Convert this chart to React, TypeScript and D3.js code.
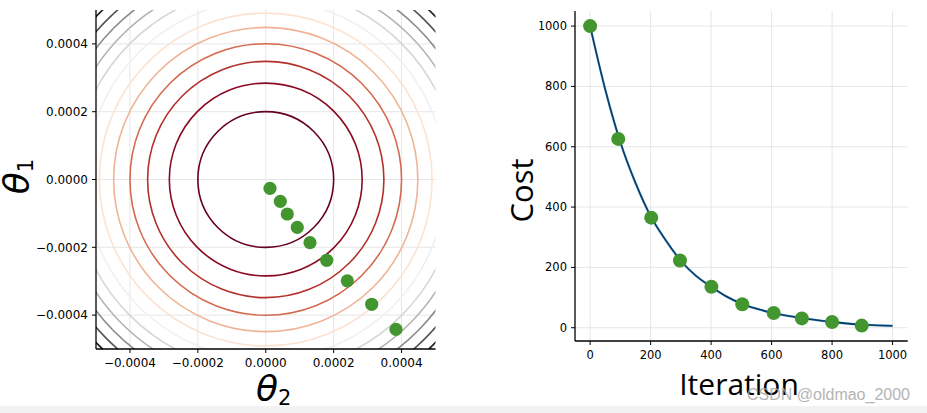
import React from "react";
import * as d3 from "d3";

// ---------- Left panel data (contour plot) ----------
const thetaTicks = [-0.0004, -0.0002, 0, 0.0002, 0.0004];
const thetaTickLabels = ["\u22120.0004", "\u22120.0002", "0.0000", "0.0002", "0.0004"];
// contour radii (levels of cost = theta1^2 + theta2^2, evenly spaced)
const contourLevels = [1, 2, 3, 4, 5, 6, 7, 8, 9, 10, 11, 12];
const contourRadii = [0.0002, 0.000284, 0.000348, 0.0004, 0.000448, 0.00049, 0.000529, 0.000566, 0.0006, 0.000632, 0.000663, 0.000693];
// gradient descent path
const pathTheta2 = [0.0000125, 0.0000429, 0.0000635, 0.0000929, 0.0001303, 0.0001795, 0.0002402, 0.0003121, 0.0003836];
const pathTheta1 = [-0.000026, -0.0000643, -0.0001018, -0.000141, -0.0001864, -0.0002383, -0.0002988, -0.0003681, -0.0004419];

// ---------- Right panel data (cost curve) ----------
const iterTicks = [0, 200, 400, 600, 800, 1000];
const costTicks = [0, 200, 400, 600, 800, 1000];
const pointIter = [0, 93, 202, 297, 401, 503, 607, 700, 800, 898];
const pointCost = [1000, 626, 365, 223, 136, 78, 49, 31, 19, 7];
const lineIter = [0, 50, 100, 150, 200, 250, 300, 350, 400, 450, 500, 550, 600, 650, 700, 750, 800, 850, 900, 950, 1000];
const lineCost = [1000, 790, 615, 480, 370, 290, 222, 172, 136, 104, 80, 63, 50, 40, 32, 25, 19, 14, 10, 8, 6];

// contour line colours (dark red -> cream -> light grey -> black)
const levelColors = ["#67001f", "#8a0a24", "#b4302b", "#d5694e", "#f1b396", "#fbe3d4", "#f0f0f0", "#d6d6d6", "#b3b3b3", "#8a8a8a", "#525252", "#1a1a1a"];

const W = 927;
const H = 413;
const GREEN = "#43962f";
const GRID = "#e6e6e6";

export default function App() {
  // left scales
  const lx = d3.scaleLinear().domain([-0.0005, 0.0005]).range([96, 435.5]);
  const ly = d3.scaleLinear().domain([-0.0005, 0.0005]).range([349, 10]);
  const lL = lx.range()[0], lR = lx.range()[1], lT = ly.range()[1], lB = ly.range()[0];
  const color = d3.scaleOrdinal<number, string>().domain(contourLevels).range(levelColors);

  // right scales
  const rx = d3.scaleLinear().domain([-50, 1050]).range([575, 907.7]);
  const ry = d3.scaleLinear().domain([-44, 1050]).range([341, 11]);
  const rL = rx.range()[0], rR = rx.range()[1], rT = ry.range()[1], rB = ry.range()[0];

  const line = d3
    .line<number>()
    .x((_, i) => rx(lineIter[i]))
    .y((d) => ry(d))
    .curve(d3.curveMonotoneX);

  const tickFont = "'DejaVu Sans', sans-serif";

  return (
    <svg
      width={W}
      height={H}
      viewBox={`0 0 ${W} ${H}`}
      style={{ position: "absolute", left: 0, top: 0, background: "#fff" }}
    >
      <defs>
        <clipPath id="leftClip">
          <rect x={lL} y={lT} width={lR - lL} height={lB - lT} />
        </clipPath>
        <clipPath id="rightPanel">
          <rect x={539.5} y={0} width={W - 539.5} height={H} />
        </clipPath>
      </defs>
      <rect x={0} y={0} width={W} height={H} fill="#fff" />
      <rect x={0} y={406} width={W} height={H - 406} fill="#f2f2f2" />

      {/* ================= LEFT PANEL ================= */}
      <g>
        {/* grid */}
        {thetaTicks.map((t, i) => (
          <g key={"lg" + i}>
            <line x1={lx(t)} x2={lx(t)} y1={lT} y2={lB} stroke={GRID} strokeWidth={1} />
            <line x1={lL} x2={lR} y1={ly(t)} y2={ly(t)} stroke={GRID} strokeWidth={1} />
          </g>
        ))}
        {/* contours */}
        <g clipPath="url(#leftClip)">
          {contourRadii.map((r, i) => (
            <circle
              key={"c" + i}
              cx={lx(0)}
              cy={ly(0)}
              r={lx(r) - lx(0)}
              fill="none"
              stroke={color(contourLevels[i])}
              strokeWidth={1.6}
            />
          ))}
        </g>
        {/* descent path points */}
        {pathTheta2.map((t2, i) => (
          <circle key={"p" + i} cx={lx(t2)} cy={ly(pathTheta1[i])} r={6.6} fill={GREEN} />
        ))}
        {/* spines */}
        <line x1={lL} x2={lL} y1={lT} y2={lB} stroke="#000" strokeWidth={1.3} />
        <line x1={lL} x2={lR} y1={lB} y2={lB} stroke="#000" strokeWidth={1.3} />
        {/* x ticks */}
        {thetaTicks.map((t, i) => (
          <g key={"lxt" + i}>
            <line x1={lx(t)} x2={lx(t)} y1={lB} y2={lB + 4} stroke="#000" strokeWidth={1} />
            <text x={lx(t)} y={lB + 18} fontSize={12} fontFamily={tickFont} textAnchor="middle" fill="#000">
              {thetaTickLabels[i]}
            </text>
          </g>
        ))}
        {/* y ticks */}
        {thetaTicks.map((t, i) => (
          <g key={"lyt" + i}>
            <line x1={lL - 4} x2={lL} y1={ly(t)} y2={ly(t)} stroke="#000" strokeWidth={1} />
            <text x={lL - 8} y={ly(t)} dy="0.35em" fontSize={12} fontFamily={tickFont} textAnchor="end" fill="#000">
              {thetaTickLabels[i]}
            </text>
          </g>
        ))}
        {/* axis labels */}
        <text x={(lL + lR) / 2 + 8} y={401} textAnchor="middle" fill="#000" fontFamily={tickFont}>
          <tspan fontSize={36} fontStyle="italic">θ</tspan>
          <tspan fontSize={21} dy={4}>2</tspan>
        </text>
        <text transform={`translate(29, ${(lT + lB) / 2 - 3}) rotate(-90)`} textAnchor="middle" fill="#000" fontFamily={tickFont}>
          <tspan fontSize={36} fontStyle="italic">θ</tspan>
          <tspan fontSize={21} dy={4}>1</tspan>
        </text>
      </g>

      {/* ================= RIGHT PANEL ================= */}
      <g clipPath="url(#rightPanel)">
        {/* grid */}
        {iterTicks.map((t, i) => (
          <line key={"rgx" + i} x1={rx(t)} x2={rx(t)} y1={rT} y2={rB} stroke={GRID} strokeWidth={1} />
        ))}
        {costTicks.map((t, i) => (
          <line key={"rgy" + i} x1={rL} x2={rR} y1={ry(t)} y2={ry(t)} stroke={GRID} strokeWidth={1} />
        ))}
        {/* curve */}
        <path d={line(lineCost) || ""} fill="none" stroke="#6fb3e0" strokeWidth={2.6} opacity={0.5} />
        <path d={line(lineCost) || ""} fill="none" stroke="#073f6e" strokeWidth={1.8} />
        {/* points */}
        {pointIter.map((it, i) => (
          <circle key={"rp" + i} cx={rx(it)} cy={ry(pointCost[i])} r={7} fill={GREEN} />
        ))}
        {/* spines */}
        <line x1={rL} x2={rL} y1={rT} y2={rB} stroke="#000" strokeWidth={1.3} />
        <line x1={rL} x2={rR} y1={rB} y2={rB} stroke="#000" strokeWidth={1.3} />
        {/* x ticks */}
        {iterTicks.map((t, i) => (
          <g key={"rxt" + i}>
            <line x1={rx(t)} x2={rx(t)} y1={rB} y2={rB + 4} stroke="#000" strokeWidth={1} />
            <text x={rx(t)} y={rB + 17.5} fontSize={11.5} fontFamily={tickFont} textAnchor="middle" fill="#000">
              {String(t)}
            </text>
          </g>
        ))}
        {/* y ticks */}
        {costTicks.map((t, i) => (
          <g key={"ryt" + i}>
            <line x1={rL - 4} x2={rL} y1={ry(t)} y2={ry(t)} stroke="#000" strokeWidth={1} />
            <text x={rL - 8} y={ry(t)} dy="0.35em" fontSize={11.5} fontFamily={tickFont} textAnchor="end" fill="#000">
              {String(t)}
            </text>
          </g>
        ))}
        {/* x axis label */}
        <text x={739} y={395} fontSize={30} fontFamily="'Open Sans', sans-serif" textAnchor="middle" fill="#000">
          Iteration
        </text>
      </g>

      {/* y axis label (right panel) */}
      <text
        transform={`translate(533, ${190.5}) rotate(-90)`}
        fontSize={31}
        fontFamily="'Open Sans', sans-serif"
        textAnchor="middle"
        fill="#000"
      >
        Cost
      </text>

      {/* watermark */}
      <text x={747} y={400} fontSize={16} fontFamily="'Liberation Sans', Arial, sans-serif" fill="#a8a8a8" opacity={0.85}>
        CSDN @oldmao_2000
      </text>
    </svg>
  );
}
